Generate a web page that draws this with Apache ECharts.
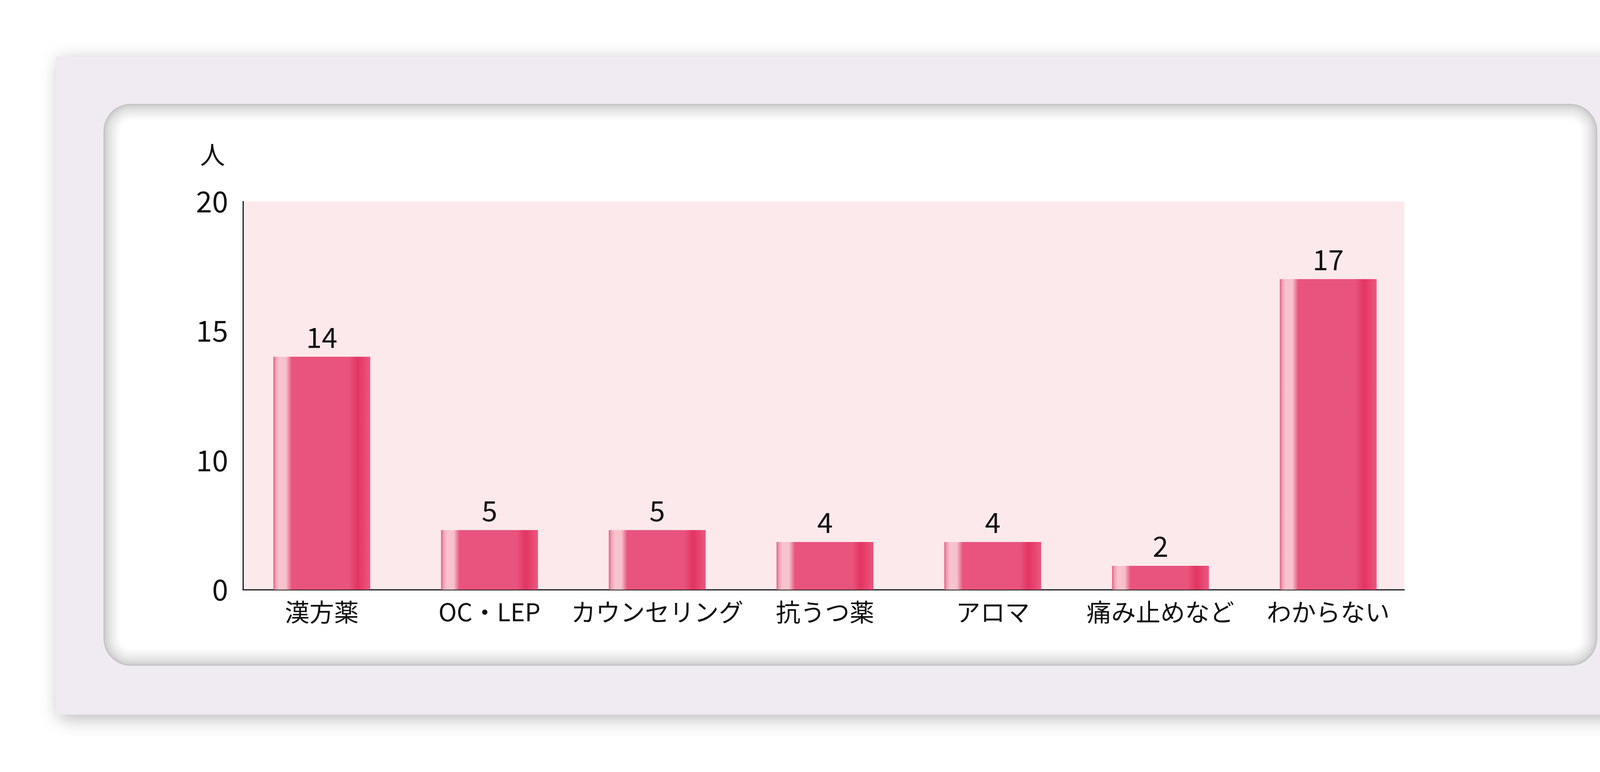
<!DOCTYPE html>
<html>
<head>
    <meta charset="utf-8">
    <title>治療の内訳</title>
    <script src="https://cdn.jsdelivr.net/npm/echarts@6/dist/echarts.min.js"></script>
    <style>
        html, body { margin: 0; padding: 0; background: #ffffff; }
        #chart { width: 100vw; height: 100vh; }
    </style>
</head>
<body>
    <div id="chart"></div>

    <script>
        // categories and counts (人)
        var categories = ['漢方薬', 'OC・LEP', 'カウンセリング', '抗うつ薬', 'アロマ', '痛み止めなど', 'わからない'];
        var counts = [14, 5, 5, 4, 4, 2, 17];

        // the y axis of the original is not linear: 0, 10, 15, 20 sit at equal steps
        var yTickValues = [0, 10, 15, 20];
        var scaleValues = [0, 5, 10, 15, 20];
        var scalePos = [0, 0.46, 1, 2, 3];

        function toPos(v) {
            for (var i = 1; i < scaleValues.length; i++) {
                if (v <= scaleValues[i]) {
                    var t = (v - scaleValues[i - 1]) / (scaleValues[i] - scaleValues[i - 1]);
                    return scalePos[i - 1] + t * (scalePos[i] - scalePos[i - 1]);
                }
            }
            return scalePos[scalePos.length - 1];
        }

        var FONT = '"Noto Sans CJK JP", "Noto Sans", sans-serif';

        // panel decoration: lavender card + inset white rounded panel
        function panelElements() {
            var els = [];
            els.push({
                type: 'rect',
                z: -10,
                shape: { x: 143, y: 145, width: 4065, height: 1685 },
                style: {
                    fill: '#f0eaf3',
                    shadowBlur: 45,
                    shadowColor: 'rgba(0,0,0,0.28)',
                    shadowOffsetX: 8,
                    shadowOffsetY: 10
                }
            });
            var steps = 14;
            for (var i = 0; i <= steps; i++) {
                var inset = i * 3;
                var t = i / steps;
                var g = Math.round(196 + 59 * Math.pow(t, 0.6));
                els.push({
                    type: 'rect',
                    z: -9,
                    shape: {
                        x: 265 + inset, y: 266 + inset,
                        width: 3824 - 2 * inset, height: 1439 - 2 * inset,
                        r: Math.max(70 - inset, 24)
                    },
                    style: { fill: 'rgb(' + g + ',' + g + ',' + g + ')' }
                });
            }
            return els;
        }

        var barGradient = new echarts.graphic.LinearGradient(0, 0, 1, 0, [
            { offset: 0, color: '#e45a82' },
            { offset: 0.025, color: '#f0a0b4' },
            { offset: 0.06, color: '#f7c3cd' },
            { offset: 0.13, color: '#f6c2cc' },
            { offset: 0.19, color: '#e8547d' },
            { offset: 0.78, color: '#e8547d' },
            { offset: 0.87, color: '#e33462' },
            { offset: 0.93, color: '#e6456f' },
            { offset: 1, color: '#ea5880' }
        ]);

        var myChart = echarts.init(document.getElementById('chart'));

        var option = {
            animation: false,
            backgroundColor: '#ffffff',
            graphic: { elements: panelElements() },
            grid: [
                { left: 622, right: 501, top: 516, bottom: 467, show: true, backgroundColor: '#fce9ec', borderWidth: 0 },
                { left: 609, right: 481, top: 516, bottom: 467 }
            ],
            xAxis: [
                {
                    gridIndex: 0,
                    type: 'category',
                    data: categories,
                    axisLine: { show: true, lineStyle: { color: '#1a1a1a', width: 3 } },
                    axisTick: { show: false },
                    axisLabel: { show: false }
                },
                {
                    gridIndex: 1,
                    type: 'category',
                    data: categories,
                    axisLine: { show: false },
                    axisTick: { show: false },
                    axisLabel: { interval: 0, fontSize: 63, color: '#111', fontFamily: FONT, margin: 26 }
                }
            ],
            yAxis: [
                {
                    gridIndex: 0,
                    type: 'value',
                    min: 0,
                    max: 3,
                    interval: 1,
                    name: '人',
                    nameLocation: 'end',
                    nameGap: 88,
                    nameTextStyle: {
                        fontSize: 64, color: '#111', fontFamily: FONT,
                        align: 'right', padding: [0, 46, 0, 0]
                    },
                    axisLine: { show: true, lineStyle: { color: '#1a1a1a', width: 3 } },
                    axisTick: { show: false },
                    splitLine: { show: false },
                    axisLabel: {
                        fontSize: 74, color: '#111', fontFamily: FONT, margin: 38,
                        formatter: function (v) { return String(yTickValues[v]); }
                    }
                },
                { gridIndex: 1, type: 'value', min: 0, max: 3, show: false }
            ],
            series: [
                {
                    type: 'bar',
                    xAxisIndex: 1,
                    yAxisIndex: 1,
                    barWidth: 248,
                    data: counts.map(function (v) { return toPos(v); }),
                    itemStyle: { color: barGradient },
                    label: {
                        show: true,
                        position: 'top',
                        distance: 14,
                        fontSize: 72,
                        color: '#111',
                        fontFamily: FONT,
                        formatter: function (p) { return String(counts[p.dataIndex]); }
                    }
                }
            ]
        };

        myChart.setOption(option);
    </script>
</body>
</html>
